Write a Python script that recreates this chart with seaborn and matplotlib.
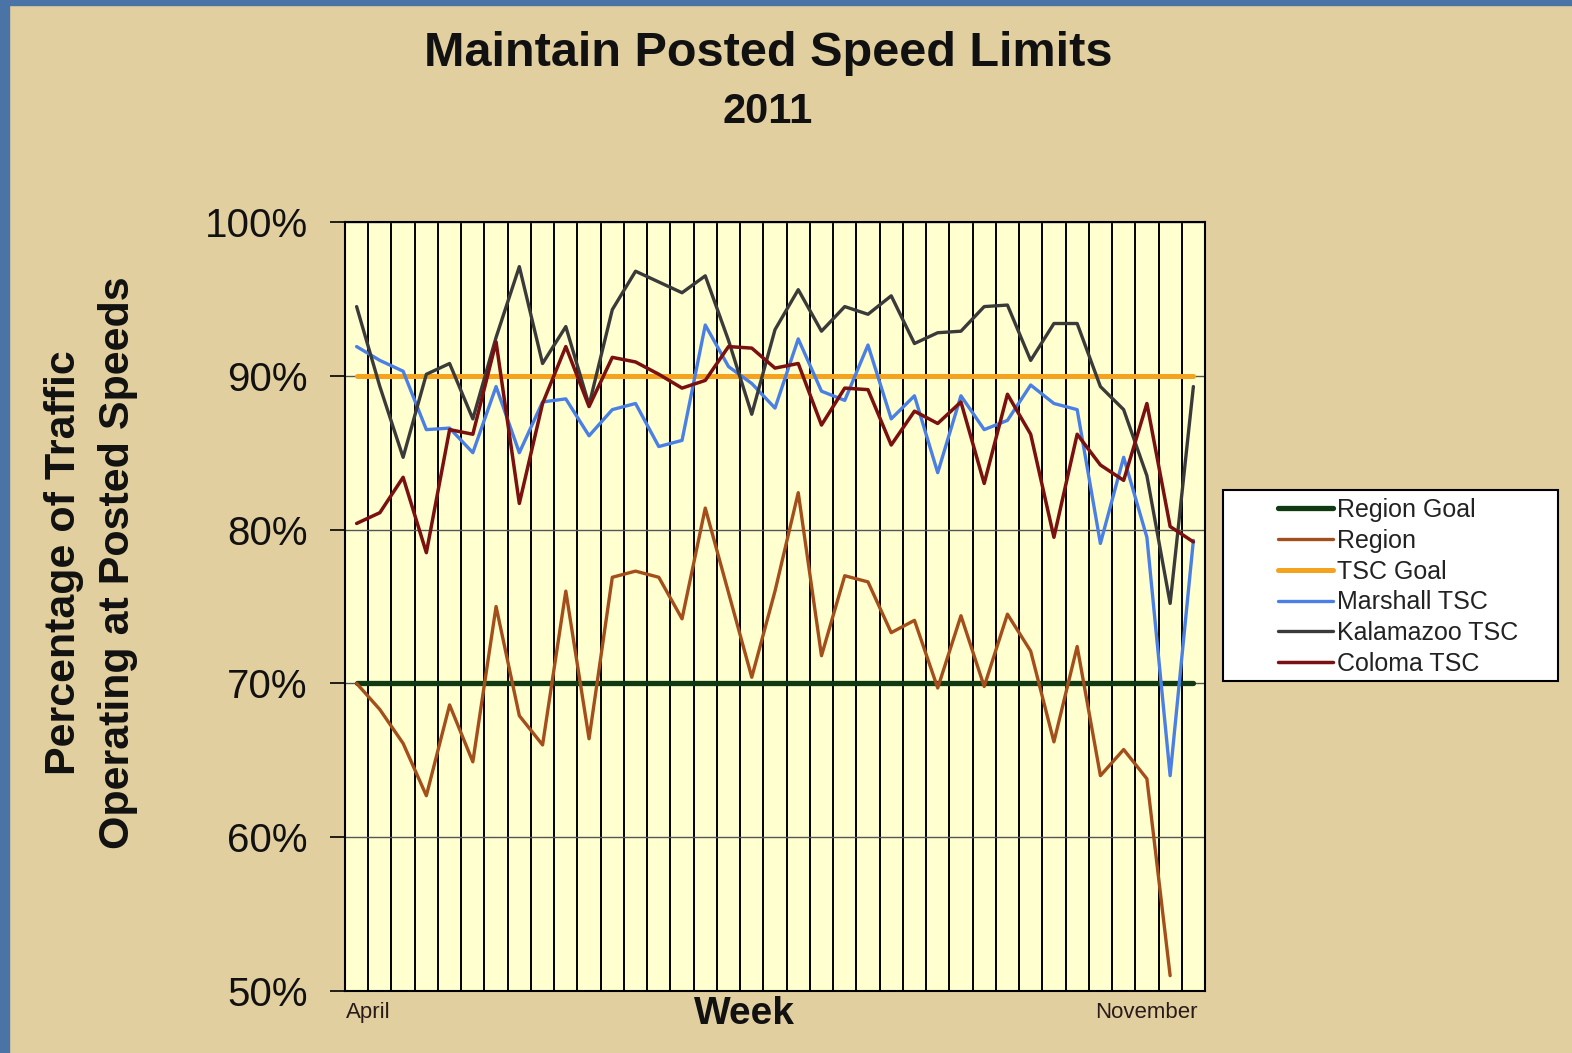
import matplotlib
matplotlib.use("Agg")
import matplotlib.pyplot as plt
import numpy as np
import pandas as pd
import seaborn as sns
from matplotlib.patches import Rectangle
from matplotlib.ticker import FuncFormatter

# weekly values, April .. November 2011 (percent of traffic at posted speeds)
weeks = np.arange(37)
region = [70.0, 68.3, 66.1, 62.7, 68.6, 64.9, 75.0, 67.9, 66.0, 76.0, 66.4, 76.9, 77.3, 76.9, 74.2, 81.4,
          75.9, 70.4, 76.0, 82.4, 71.8, 77.0, 76.6, 73.3, 74.1, 69.7, 74.4, 69.8, 74.5, 72.1, 66.2, 72.4,
          64.0, 65.7, 63.8, 51.0, np.nan]
marshall = [91.9, 91.0, 90.3, 86.5, 86.6, 85.0, 89.3, 85.0, 88.3, 88.5, 86.1, 87.8, 88.2, 85.4, 85.8, 93.3,
            90.6, 89.5, 87.9, 92.4, 89.0, 88.4, 92.0, 87.2, 88.7, 83.7, 88.7, 86.5, 87.1, 89.4, 88.2, 87.8,
            79.1, 84.7, 79.5, 64.0, 79.3]
kalamazoo = [94.5, 89.3, 84.7, 90.1, 90.8, 87.2, 92.5, 97.1, 90.8, 93.2, 88.1, 94.3, 96.8, 96.1, 95.4, 96.5,
             92.3, 87.5, 93.0, 95.6, 92.9, 94.5, 94.0, 95.2, 92.1, 92.8, 92.9, 94.5, 94.6, 91.0, 93.4, 93.4,
             89.3, 87.8, 83.5, 75.2, 89.3]
coloma = [80.4, 81.1, 83.4, 78.5, 86.5, 86.2, 92.2, 81.7, 88.2, 91.9, 88.0, 91.2, 90.9, 90.1, 89.2, 89.7,
          91.9, 91.8, 90.5, 90.8, 86.8, 89.2, 89.1, 85.5, 87.7, 86.9, 88.3, 83.0, 88.8, 86.2, 79.5, 86.2,
          84.2, 83.2, 88.2, 80.2, 79.2]
region_goal = [70.0] * len(weeks)
tsc_goal = [90.0] * len(weeks)

SERIES = [
    ("Region Goal", region_goal, "#0f3a12", 3.8),
    ("Region", region, "#a34e1b", 2.4),
    ("TSC Goal", tsc_goal, "#f5a21e", 3.6),
    ("Marshall TSC", marshall, "#4a7fe6", 2.4),
    ("Kalamazoo TSC", kalamazoo, "#3a3a3a", 2.4),
    ("Coloma TSC", coloma, "#7a1010", 2.5),
]

sns.set_theme(style="white")
plt.rcParams["font.family"] = ["Liberation Sans", "DejaVu Sans"]

W, H = 1572, 1053
fig = plt.figure(figsize=(W / 100, H / 100), dpi=100, facecolor="#e2cf9f")
fig.patches.append(Rectangle((0, 0), 9 / W, 1, transform=fig.transFigure, color="#4a74a6", zorder=5))
fig.patches.append(Rectangle((0, 1 - 5 / H), 1, 5 / H, transform=fig.transFigure, color="#4a74a6", zorder=5))

ax = fig.add_axes([345 / W, 1 - 991 / H, 860 / W, 769 / H])
ax.set_facecolor("#ffffcf")

df = pd.DataFrame({"week": weeks})
for name, values, color, lw in SERIES:
    df[name] = values
    sns.lineplot(data=df, x="week", y=name, color=color, lw=lw, label=name, ax=ax, zorder=3)

ax.set_xlim(-0.5, 36.5)
ax.set_ylim(50, 100)
ax.set_yticks(np.arange(50, 101, 10))
ax.yaxis.set_major_formatter(FuncFormatter(lambda v, _: f"{v:.0f}%"))
ax.set_xticks(np.arange(0.5, 36, 1), minor=True)
ax.set_xticks([-0.45, 36.2], ["April", "November"])
tl = ax.get_xticklabels()
tl[0].set_ha("left"); tl[1].set_ha("right")
ax.grid(False)
ax.grid(which="minor", axis="x", color="black", lw=1.4)
ax.grid(which="major", axis="y", color="#555555", lw=1.0)
ax.tick_params(axis="y", which="major", length=11, width=1.2, color="black", direction="out",
               left=True, pad=16, labelsize=29, labelcolor="#111111")
ax.tick_params(axis="x", which="both", length=0, pad=8, labelsize=16, labelcolor="#2a1a1a")
for spine in ax.spines.values():
    spine.set_color("black"); spine.set_linewidth(1.5)
ax.set(xlabel="", ylabel="")
ax.text(0.465, -0.006, "Week", transform=ax.transAxes, ha="center", va="top", fontsize=28, fontweight="bold",
        color="#111111")

# legend box is wider than its entries in the original, so draw the frame separately
ax.add_patch(Rectangle((1223 / W, 1 - 681 / H), 335 / W, 191 / H, transform=fig.transFigure, clip_on=False,
                       facecolor="white", edgecolor="black", lw=1.5, zorder=4))
leg = ax.legend(loc="center left", bbox_to_anchor=(1278 / W, 1 - 587 / H), bbox_transform=fig.transFigure,
                fontsize=18, frameon=False, handlelength=2.2, handletextpad=0.15, labelspacing=0.27,
                borderpad=0, borderaxespad=0)
leg.set_zorder(5)
for text in leg.get_texts():
    text.set_color("#222222")

fig.text(0.4885, 1 - 53 / H, "Maintain Posted Speed Limits", ha="center", va="center", fontsize=35,
         fontweight="bold", color="#111111")
fig.text(0.4885, 1 - 112 / H, "2011", ha="center", va="center", fontsize=30, fontweight="bold", color="#111111")
fig.text(91 / W, 1 - 563 / H, "Percentage of Traffic\nOperating at Posted Speeds", rotation=90, ha="center",
         va="center", fontsize=31, fontweight="bold", linespacing=1.45, color="#111111")

fig.savefig("out.png", dpi=100, facecolor=fig.get_facecolor())
